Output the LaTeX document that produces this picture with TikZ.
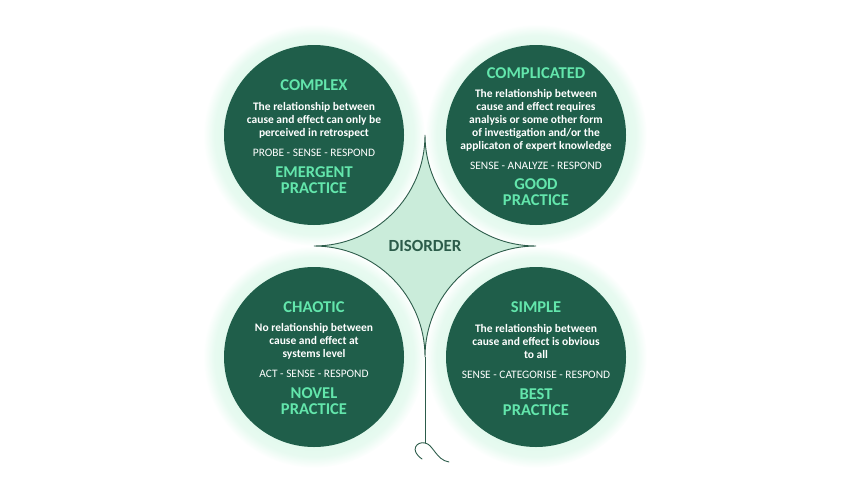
\documentclass[tikz,border=0pt]{standalone}
\usepackage{fontspec}
\setmainfont{Carlito}
\usepackage{tikz}

\definecolor{domaingreen}{HTML}{1F5E4A}
\definecolor{titlemint}{HTML}{63E6AC}
\definecolor{halomint}{HTML}{E2F9ED}
\definecolor{disorderfill}{HTML}{CAECDA}
\definecolor{disorderline}{HTML}{2C5C4A}

\pgfdeclareradialshading{haloshade}{\pgfpointorigin}{color(0bp)=(halomint); color(20bp)=(halomint); color(22.5bp)=(halomint!80!white); color(25bp)=(white); color(50bp)=(white)}

\tikzset{
  halo/.style={circle,minimum size=222pt,inner sep=0pt,shading=haloshade},
  domaincircle/.style={circle,fill=domaingreen,minimum size=180pt,inner sep=0pt},
  domaintitle/.style={text=titlemint,font=\bfseries\fontsize{16.5}{18}\selectfont},
  domainbody/.style={text=white,align=center,font=\bfseries\fontsize{11.5}{13}\selectfont},
  domainaction/.style={text=white,font=\fontsize{11.4}{13}\selectfont},
  domainpractice/.style={text=titlemint,align=center,font=\bfseries\fontsize{16.5}{16.5}\selectfont},
}

\begin{document}
\begin{tikzpicture}[x=1pt,y=-1pt]
\useasboundingbox (0,0) rectangle (850,490);
% circle centres
\coordinate (ul) at (314,135);
\coordinate (ur) at (536,135);
\coordinate (ll) at (314,357);
\coordinate (lr) at (536,357);
\node[halo] (complex halo) at (ul) {};
\node[halo] (complicated halo) at (ur) {};
\node[halo] (chaotic halo) at (ll) {};
\node[halo] (simple halo) at (lr) {};
% disorder
\coordinate (top tip) at (425,135);
\draw[disorderline,fill=disorderfill,line width=0.9pt] (top tip)
  arc[start angle=0,end angle=90,radius=111]
  arc[start angle=-90,end angle=0,radius=111] coordinate (bottom tip)
  arc[start angle=180,end angle=270,radius=111]
  arc[start angle=90,end angle=180,radius=111] -- cycle;
\node[text=disorderline,font=\bfseries\fontsize{17}{18}\selectfont] (disorder) at (425,246) {DISORDER};
\coordinate (root) at (425,443);
\coordinate (root left) at (422,459);
\coordinate (root right) at (449,462);
\draw[disorderline,line width=0.9pt] (bottom tip) -- (root);
\draw[disorderline,line width=0.9pt,line cap=round] (root) .. controls (417,441) and (409,450) .. (root left);
\draw[disorderline,line width=0.9pt,line cap=round] (root) .. controls (433,444) and (436,460) .. (root right);
% domains
\node[domaincircle] (complex) at (ul) {};
\node[domaincircle] (complicated) at (ur) {};
\node[domaincircle] (chaotic) at (ll) {};
\node[domaincircle] (simple) at (lr) {};
% complex
\node[domaintitle] (complex title) at (314,85) {COMPLEX};
\node[domainbody] (complex body) at (314,120) {The relationship between\\cause and effect can only be\\perceived in retrospect};
\node[domainaction] (complex action) at (314,153) {PROBE - SENSE - RESPOND};
\node[domainpractice] (complex practice) at (314,180) {EMERGENT\\PRACTICE};
% complicated
\node[domaintitle] (complicated title) at (536,73) {COMPLICATED};
\node[domainbody] (complicated body) at (536,120) {The relationship between\\cause and effect requires\\analysis or some other form\\of investigation and/or the\\applicaton of expert knowledge};
\node[domainaction] (complicated action) at (536,166) {SENSE - ANALYZE - RESPOND};
\node[domainpractice] (complicated practice) at (536,192) {GOOD\\PRACTICE};
% chaotic
\node[domaintitle] (chaotic title) at (314,307) {CHAOTIC};
\node[domainbody] (chaotic body) at (314,341) {No relationship between\\cause and effect at\\systems level};
\node[domainaction] (chaotic action) at (314,374) {ACT - SENSE - RESPOND};
\node[domainpractice] (chaotic practice) at (314,401) {NOVEL\\PRACTICE};
% simple
\node[domaintitle] (simple title) at (536,307) {SIMPLE};
\node[domainbody] (simple body) at (536,341) {The relationship between\\cause and effect is obvious\\to all};
\node[domainaction] (simple action) at (536,375) {SENSE - CATEGORISE - RESPOND};
\node[domainpractice] (simple practice) at (536,402) {BEST\\PRACTICE};
\end{tikzpicture}
\end{document}
